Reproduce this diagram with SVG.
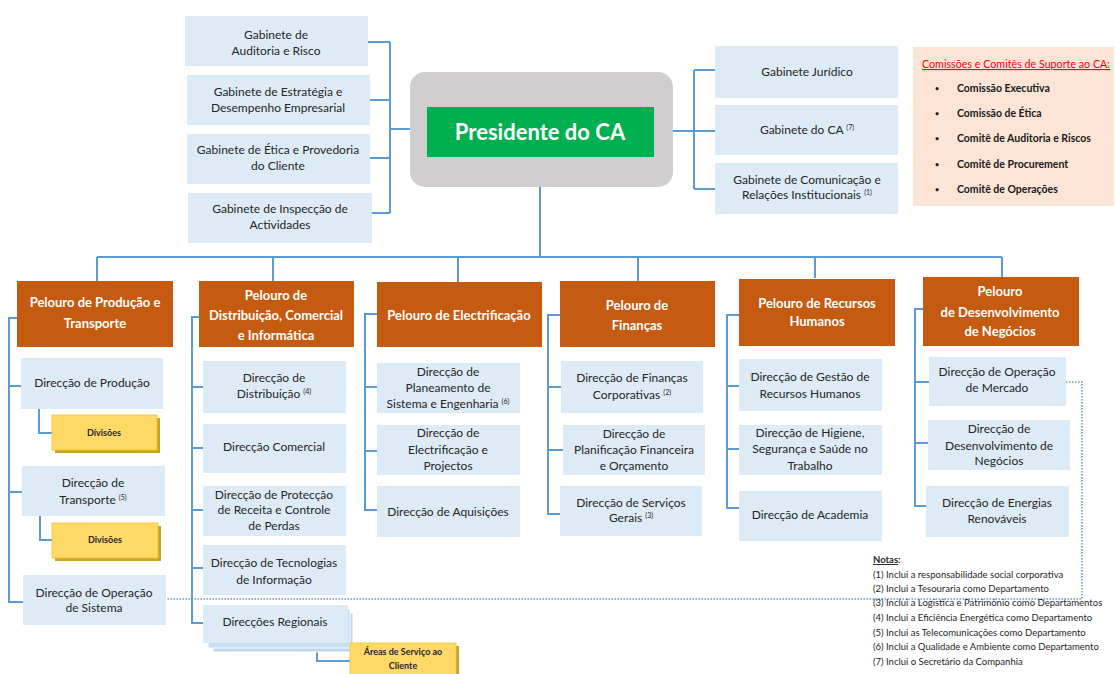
<svg xmlns="http://www.w3.org/2000/svg" width="1115" height="674" viewBox="0 0 1115 674">
<style>
.bx{fill:#ddebf7}
.pel{fill:#c55a11}
.yl{fill:#ffd966;stroke:#f2c233;stroke-width:0.8}
.ys{fill:#c9a227}
.t{font-family:Lato,'Liberation Sans',sans-serif;font-size:12px;fill:#262626;text-anchor:middle}
.pt{font-family:Lato,'Liberation Sans',sans-serif;font-size:13px;font-weight:bold;fill:#ffffff;text-anchor:middle}
.yt{font-family:Lato,'Liberation Sans',sans-serif;font-size:9px;font-weight:bold;fill:#262626;text-anchor:middle}
.sup{font-size:7px}
.c{stroke:#5b9bd5;stroke-width:2;fill:none}
.dot{stroke:#5b9bd5;stroke-width:1.5;fill:none;stroke-dasharray:1.5 1.5}
.ct{font-family:Lato,'Liberation Sans',sans-serif;font-size:10.5px;font-weight:bold;fill:#1a1a1a}
.bul{font-size:7px}
.nt{font-family:Lato,'Liberation Sans',sans-serif;font-size:9.5px;fill:#262626}
</style>
<rect width="1115" height="674" fill="#ffffff"/>
<g id="connectors">
<path class="c" d="M368,42 H390 M370,100 H390 M370,158 H390 M372,213 H390 M390,42 V213 M390,129 H410"/>
<path class="c" d="M673,131 H694 M694,70 V189 M694,70 H715 M694,131 H715 M694,189 H715"/>
<path class="c" d="M540,187 V257 M97,257 H1002 M97,257 V281 M273,257 V281 M458,257 V282 M638,257 V281 M815,257 V278 M1002,257 V277"/>
<path class="c" d="M17,318 H9 V602 H23 M9,386 H21 M9,492 H22 M39,409 V433 H52 M40,516 V540 H52"/>
<path class="c" d="M199,317 H192 V623 H203 M192,387 H203 M192,448 H203 M192,510 H203 M192,568 H203 M317,650 V661 H350"/>
<path class="c" d="M377,314 H365 V510 H377 M365,387 H377 M365,451 H377"/>
<path class="c" d="M560,315 H548 V514 H560 M548,387 H561 M548,450 H563"/>
<path class="c" d="M739,315 H727 V508 H739 M727,386 H739 M727,449 H739"/>
<path class="c" d="M923,309 H915 V506 H926 M915,382 H929 M915,443 H928"/>
<path class="dot" d="M1066,382 H1082 V599 H166"/>
</g>
<g id="gab-auditoria"><rect class="bx" x="185" y="16" width="183" height="50"/><text class="t"><tspan x="276" y="39">Gabinete de</tspan><tspan x="276" y="55">Auditoria e Risco</tspan></text></g>
<g id="gab-estrategia"><rect class="bx" x="187" y="75" width="183" height="50"/><text class="t"><tspan x="278" y="96">Gabinete de Estratégia e</tspan><tspan x="278" y="112">Desempenho Empresarial</tspan></text></g>
<g id="gab-etica"><rect class="bx" x="187" y="134" width="183" height="50"/><text class="t"><tspan x="278" y="154">Gabinete de Ética e Provedoria</tspan><tspan x="278" y="170">do Cliente</tspan></text></g>
<g id="gab-inspeccao"><rect class="bx" x="188" y="193" width="184" height="50"/><text class="t"><tspan x="280" y="213">Gabinete de Inspecção de</tspan><tspan x="280" y="229">Actividades</tspan></text></g>
<g id="presidente"><rect x="410" y="72" width="263" height="115" rx="15" fill="#d0cece"/><rect x="427" y="107" width="227" height="50" fill="#00b050"/><text x="540" y="140" font-family="Lato,'Liberation Sans',sans-serif" font-size="22" font-weight="bold" fill="#ffffff" text-anchor="middle">Presidente do CA</text></g>
<g id="gab-juridico"><rect class="bx" x="715" y="46" width="183" height="52"/><text class="t" x="807" y="76">Gabinete Jurídico</text></g>
<g id="gab-ca"><rect class="bx" x="715" y="105" width="183" height="50"/><text class="t" x="807" y="134">Gabinete do CA <tspan class="sup" dy="-4">(7)</tspan></text></g>
<g id="gab-comunicacao"><rect class="bx" x="715" y="163" width="183" height="51"/><text class="t"><tspan x="807" y="184">Gabinete de Comunicação e</tspan><tspan x="807" y="199">Relações Institucionais <tspan class="sup" dy="-4">(1)</tspan></tspan></text></g>
<g id="comissoes"><rect x="913" y="47" width="201" height="159" fill="#fce4d6"/>
<text x="922" y="68" font-family="Lato,'Liberation Sans',sans-serif" font-size="11" fill="#ff0000" text-decoration="underline" textLength="188" lengthAdjust="spacingAndGlyphs">Comissões e Comitês de Suporte ao CA:</text>
<text class="ct"><tspan class="bul" x="935" y="91">•</tspan><tspan x="957" y="92">Comissão Executiva</tspan><tspan class="bul" x="935" y="116">•</tspan><tspan x="957" y="117">Comissão de Ética</tspan><tspan class="bul" x="935" y="141">•</tspan><tspan x="957" y="142">Comitê de Auditoria e Riscos</tspan><tspan class="bul" x="935" y="167">•</tspan><tspan x="957" y="168">Comitê de Procurement</tspan><tspan class="bul" x="935" y="192">•</tspan><tspan x="957" y="193">Comitê de Operações</tspan></text></g>
<g id="pel-producao"><rect class="pel" x="17" y="281" width="156" height="66"/><text class="pt"><tspan x="95" y="307">Pelouro de Produção e</tspan><tspan x="95" y="328">Transporte</tspan></text></g>
<g id="pel-distribuicao"><rect class="pel" x="199" y="281" width="155" height="66"/><text class="pt"><tspan x="276" y="300">Pelouro de</tspan><tspan x="276" y="320">Distribuição, Comercial</tspan><tspan x="276" y="340">e Informática</tspan></text></g>
<g id="pel-electrificacao"><rect class="pel" x="377" y="282" width="165" height="65"/><text class="pt" x="459" y="320">Pelouro de Electrificação</text></g>
<g id="pel-financas"><rect class="pel" x="560" y="281" width="155" height="66"/><text class="pt"><tspan x="637" y="310">Pelouro de</tspan><tspan x="637" y="330">Finanças</tspan></text></g>
<g id="pel-rh"><rect class="pel" x="739" y="279" width="156" height="67"/><text class="pt"><tspan x="817" y="308">Pelouro de Recursos</tspan><tspan x="817" y="326">Humanos</tspan></text></g>
<g id="pel-negocios"><rect class="pel" x="923" y="277" width="156" height="69"/><text class="pt"><tspan x="1000" y="296">Pelouro</tspan><tspan x="1000" y="317">de Desenvolvimento</tspan><tspan x="1000" y="336">de  Negócios</tspan></text></g>
<g id="dir-producao"><rect class="bx" x="21" y="358" width="142" height="51"/><text class="t" x="92" y="387">Direcção de Produção</text></g>
<g id="div-producao"><rect class="ys" x="55" y="418" width="105" height="35"/><rect class="yl" x="52" y="415" width="105" height="35"/><text class="yt" x="104" y="436">Divisões</text></g>
<g id="dir-transporte"><rect class="bx" x="22" y="466" width="143" height="50"/><text class="t"><tspan x="93" y="487">Direcção de</tspan><tspan x="93" y="504">Transporte <tspan class="sup" dy="-4">(5)</tspan></tspan></text></g>
<g id="div-transporte"><rect class="ys" x="55" y="526" width="106" height="35"/><rect class="yl" x="52" y="523" width="106" height="35"/><text class="yt" x="105" y="543">Divisões</text></g>
<g id="dir-operacao-sistema"><rect class="bx" x="23" y="575" width="143" height="50"/><text class="t"><tspan x="94" y="597">Direcção de Operação</tspan><tspan x="94" y="612">de Sistema</tspan></text></g>
<g id="dir-distribuicao"><rect class="bx" x="203" y="361" width="143" height="52"/><text class="t"><tspan x="274" y="382">Direcção de</tspan><tspan x="274" y="398">Distribuição <tspan class="sup" dy="-4">(4)</tspan></tspan></text></g>
<g id="dir-comercial"><rect class="bx" x="203" y="424" width="143" height="49"/><text class="t" x="274" y="451">Direcção Comercial</text></g>
<g id="dir-proteccao"><rect class="bx" x="203" y="486" width="143" height="50"/><text class="t"><tspan x="274" y="499">Direcção de Protecção</tspan><tspan x="274" y="514">de Receita e Controle</tspan><tspan x="274" y="530">de Perdas</tspan></text></g>
<g id="dir-tecnologias"><rect class="bx" x="203" y="545" width="143" height="50"/><text class="t"><tspan x="274" y="567">Direcção de Tecnologias</tspan><tspan x="274" y="584">de Informação</tspan></text></g>
<g id="dir-regionais"><rect x="213" y="613" width="140" height="39" fill="#bdd7ee" stroke="#ffffff" stroke-width="1"/><rect x="208" y="609" width="142" height="39" fill="#c9def2" stroke="#ffffff" stroke-width="1"/><rect class="bx" x="203" y="605" width="145" height="38"/><text class="t" x="275" y="626">Direcções Regionais</text></g>
<g id="areas-servico"><rect class="ys" x="353" y="646" width="106" height="34"/><rect class="yl" x="350" y="643" width="106" height="34"/><text class="yt" font-size="8.5"><tspan x="403" y="655">Áreas de Serviço ao</tspan><tspan x="403" y="669">Cliente</tspan></text></g>
<g id="dir-planeamento"><rect class="bx" x="377" y="363" width="143" height="50"/><text class="t"><tspan x="448" y="376">Direcção de</tspan><tspan x="448" y="392">Planeamento de</tspan><tspan x="448" y="408">Sistema e Engenharia <tspan class="sup" dy="-4">(6)</tspan></tspan></text></g>
<g id="dir-electrificacao"><rect class="bx" x="377" y="425" width="143" height="50"/><text class="t"><tspan x="448" y="437">Direcção de</tspan><tspan x="448" y="454">Electrificação e</tspan><tspan x="448" y="470">Projectos</tspan></text></g>
<g id="dir-aquisicoes"><rect class="bx" x="377" y="486" width="143" height="51"/><text class="t" x="448" y="516">Direcção de Aquisições</text></g>
<g id="dir-financas-corp"><rect class="bx" x="561" y="361" width="142" height="52"/><text class="t"><tspan x="632" y="382">Direcção de Finanças</tspan><tspan x="632" y="399">Corporativas <tspan class="sup" dy="-4">(2)</tspan></tspan></text></g>
<g id="dir-planificacao"><rect class="bx" x="563" y="425" width="142" height="50"/><text class="t"><tspan x="634" y="438">Direcção de</tspan><tspan x="634" y="454">Planificação Financeira</tspan><tspan x="634" y="470">e Orçamento</tspan></text></g>
<g id="dir-servicos"><rect class="bx" x="560" y="486" width="142" height="50"/><text class="t"><tspan x="631" y="507">Direcção de Serviços</tspan><tspan x="631" y="522">Gerais <tspan class="sup" dy="-4">(3)</tspan></tspan></text></g>
<g id="dir-gestao-rh"><rect class="bx" x="739" y="359" width="143" height="52"/><text class="t"><tspan x="810" y="381">Direcção de Gestão de</tspan><tspan x="810" y="398">Recursos Humanos</tspan></text></g>
<g id="dir-higiene"><rect class="bx" x="739" y="425" width="143" height="50"/><text class="t"><tspan x="810" y="437">Direcção de Higiene,</tspan><tspan x="810" y="453">Segurança e Saúde no</tspan><tspan x="810" y="470">Trabalho</tspan></text></g>
<g id="dir-academia"><rect class="bx" x="739" y="491" width="143" height="50"/><text class="t" x="810" y="519">Direcção de Academia</text></g>
<g id="dir-mercado"><rect class="bx" x="929" y="357" width="137" height="49"/><text class="t"><tspan x="997" y="376">Direcção de Operação</tspan><tspan x="997" y="392">de Mercado</tspan></text></g>
<g id="dir-desenvolvimento"><rect class="bx" x="928" y="420" width="142" height="50"/><text class="t"><tspan x="999" y="433">Direcção de</tspan><tspan x="999" y="450">Desenvolvimento de</tspan><tspan x="999" y="465">Negócios</tspan></text></g>
<g id="dir-energias"><rect class="bx" x="926" y="486" width="143" height="51"/><text class="t"><tspan x="997" y="507">Direcção de Energias</tspan><tspan x="997" y="523">Renováveis</tspan></text></g>
<g id="notas"><text class="nt"><tspan x="873" y="563" font-weight="bold" text-decoration="underline">Notas</tspan><tspan font-weight="bold">:</tspan><tspan x="873" y="578">(1)  Inclui a responsabilidade social corporativa</tspan><tspan x="873" y="592">(2)  Inclui a Tesouraria como Departamento</tspan><tspan x="873" y="606">(3)  Inclui a Logística e Património como Departamentos</tspan><tspan x="873" y="621">(4)  Inclui a Eficiência Energética como Departamento</tspan><tspan x="873" y="636">(5)  Inclui as Telecomunicações como Departamento</tspan><tspan x="873" y="650">(6)  Inclui a Qualidade e Ambiente como Departamento</tspan><tspan x="873" y="665">(7)  Inclui o Secretário da Companhia</tspan></text></g>
</svg>
